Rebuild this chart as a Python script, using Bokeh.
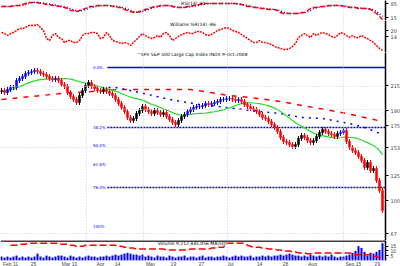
import numpy as np
import pandas as pd
from bokeh.plotting import figure
from bokeh.layouts import column
from bokeh.models import FixedTicker, Span, Range1d, ColumnDataSource
from bokeh.embed import file_html
from bokeh.resources import INLINE
from bokeh.core.properties import value

# ---------------- data ----------------
closes = [210, 208, 211, 213, 213, 220, 222, 224, 227, 228,
          229, 230, 229, 227, 226, 224, 222, 221, 222, 220,
          216, 214, 208, 204, 201, 198, 205, 210, 215, 218,
          214, 212, 210, 209, 211, 209, 207, 205, 201, 197,
          193, 189, 183, 180, 182, 187, 190, 194, 191, 189,
          187, 190, 188, 186, 188, 184, 181, 178, 176, 180,
          184, 186, 189, 191, 193, 194, 194, 195, 197, 196,
          197, 198, 199, 201, 201, 202, 202, 201, 200, 201,
          199, 196, 194, 192, 191, 189, 186, 183, 182, 179,
          176, 173, 169, 163, 159, 158, 156, 154, 156, 162,
          165, 163, 160, 158, 160, 164, 168, 171, 169, 167,
          166, 164, 167, 168, 170, 159, 153, 150, 148, 144,
          140, 133, 138, 130, 132, 120, 110, 90]
first_open = 209

osc1 = [70, 70, 70, 70, 75, 75, 75, 80, 85, 90,
        90, 90, 90, 85, 85, 80, 80, 75, 75, 70,
        70, 65, 60, 50, 50, 45, 50, 55, 60, 70,
        70, 70, 75, 75, 75, 75, 75, 70, 70, 65,
        65, 55, 50, 45, 40, 40, 45, 50, 55, 60,
        65, 70, 70, 75, 75, 75, 75, 70, 65, 65,
        65, 65, 70, 70, 75, 75, 80, 85, 85, 85,
        85, 85, 85, 85, 85, 85, 85, 85, 85, 80,
        80, 75, 70, 70, 65, 65, 60, 60, 60, 55,
        55, 55, 50, 40, 35, 35, 35, 35, 35, 35,
        40, 40, 50, 60, 65, 65, 70, 70, 70, 75,
        75, 75, 75, 75, 70, 70, 65, 65, 65, 60,
        60, 60, 60, 55, 45, 35, 20, 5]

osc2 = [18, 17, 15, 17, 18, 20, 22, 22, 23, 25,
        25, 25, 26, 23, 20, 12, 10, 15, 17, 13,
        12, 8, 10, 10, 8, 8, 10, 15, 17, 17,
        18, 18, 17, 12, 13, 18, 15, 10, 9, 8,
        7, 8, 7, 5, 8, 11, 14, 17, 15, 13,
        12, 13, 15, 13, 17, 18, 15, 10, 12, 14,
        16, 17, 18, 17, 17, 19, 19, 18, 16, 15,
        16, 18, 20, 21, 22, 23, 22, 20, 19, 18,
        16, 14, 12, 10, 8, 8, 10, 8, 8, 7,
        6, 4, 3, 2, 1, 1, 2, 4, 7, 13,
        15, 17, 15, 13, 17, 15, 17, 18, 17, 16,
        14, 13, 15, 18, 17, 15, 13, 15, 13, 13,
        15, 13, 12, 10, 8, 5, 2, 0]

volume = [4, 3, 4, 3, 4, 5, 3, 4, 3, 4,
          3, 4, 7, 4, 3, 5, 4, 3, 4, 5,
          5, 4, 3, 5, 4, 3, 4, 3, 4, 5,
          4, 4, 3, 4, 4, 5, 4, 5, 6, 5,
          6, 7, 8, 7, 6, 6, 5, 6, 4, 5,
          4, 3, 5, 4, 4, 3, 5, 4, 3, 4,
          4, 5, 3, 4, 4, 3, 4, 5, 3, 4,
          4, 3, 4, 4, 5, 4, 3, 4, 5, 4,
          5, 4, 4, 5, 3, 4, 4, 5, 4, 5,
          4, 5, 5, 6, 5, 6, 7, 6, 5, 5,
          4, 5, 4, 6, 5, 4, 5, 4, 5, 4,
          6, 4, 3, 4, 4, 5, 6, 8, 10, 15,
          13, 9, 5, 8, 7, 9, 11, 18]

vol_avg = [None, None, None, 16, 16, 16, 17, 17, 17, 18,
           18, 18, 18, 18, 18, 18, 18, 18, 18, 18,
           17, 17, 17, 16, 16, 15, 15, 15, 16, 16,
           16, 16, 16, 16, 16, 16, 16, 16, 16, 15,
           15, 14, 14, 13, 13, 12, 12, 12, 12, 12,
           12, 12, 12, 12, 12, 11, 11, 11, 11, 11,
           11, 11, 11, 12, 12, 12, 12, 12, 12, 12,
           13, 13, 14, 14, 14, 18, 18, 18, 18, 18,
           18, 18, 16, 15, 14, 14, 14, 13, 13, 12,
           12, 12, 11, 11, 10, 10, 10, 9, 9, 8,
           8, 8, 7, 7, 8, 8, 8, 8, 8, 8,
           8, 8, 8, 8, 8, 8, 8, 7, 6, 6,
           6, 6, 6, 6, 5, 4, 3, 3]

long_ma_idx = [0, 20, 40, 63, 76, 86, 95, 100, 106, 115, 127]
long_ma_val = [201, 207, 211, 211, 205, 202, 198, 195, 192, 187, 179]

mid_ma_idx = [31, 38, 46, 56, 66, 75, 86, 93, 100, 107, 116, 121, 127]
mid_ma_val = [213, 213, 208, 201, 196, 193, 189, 187, 183, 182, 177, 173, 166]

fib_levels = [233, 173, 155, 136, 113, 74]
fib_labels = ["0.0%", "38.2%", "50.0%", "61.8%", "76.4%", "100%"]
fib_drawn = [(233, "solid"), (173, "dotted"), (113, "dotted")]

grid_x = [28.3, 47.3, 75.3, 114]
grid_price = [214, 191, 153, 67]
price_ticks = [67, 100, 125, 153, 175, 190, 215]

xtick_pos = [3, 10.7, 22.7, 33, 38.7, 49.7, 57.3, 66.7, 76.3, 86, 94.7, 103.7, 117.3, 125.3]
xtick_lab = ["Feb 11", "25", "Mar 10", "Apr", "14", "May", "19", "27", "Jul", "14", "28", "Aug", "Sep 15", "29"]

title_osc1 = "RSI(14) 30"
title_osc2 = "Williams %R(14) -86"
title_price = "^SPX S&P 500 Large Cap Index INDX  9-Oct-2008"
title_vol = "Volume 9,212,445,056  MA(50)"

# ---------------- derived ----------------
n = len(closes)
idx = np.arange(n)
opens = [first_open] + closes[:-1]
ma20 = pd.Series(closes, dtype=float).rolling(20, min_periods=1).mean().values
highs = [max(o, c) + 2.5 for o, c in zip(opens, closes)]
lows = [min(o, c) - 2.5 for o, c in zip(opens, closes)]
colors = []
for i in range(n):
    if closes[i] < opens[i]:
        colors.append("#ff0000")
    elif i > 0 and closes[i] > ma20[i] and ma20[i] > ma20[i - 1]:
        colors.append("#0000ff")
    else:
        colors.append("#000000")
sig1 = pd.Series(osc1, dtype=float).rolling(3, min_periods=1).mean().values

FONT = value("DejaVu Sans")
GRID = "#c8c8ee"
xr = Range1d(-1 / 3, 128)


def make(h, yr, ticks, labels=None):
    p = figure(frame_width=385, frame_height=h, x_range=xr, y_range=yr,
               x_axis_location=None, y_axis_location="right",
               toolbar_location=None, output_backend="svg",
               min_border_left=0, min_border_top=0, min_border_bottom=0,
               min_border_right=15, outline_line_color=None,
               background_fill_color="white", border_fill_color="white")
    p.xgrid.grid_line_color = None
    p.ygrid.grid_line_color = None
    ax = p.yaxis[0]
    ax.ticker = FixedTicker(ticks=ticks)
    if labels:
        ax.major_label_overrides = labels
    ax.major_label_text_font_size = "5px"
    ax.major_label_text_font = "DejaVu Sans"
    ax.major_label_standoff = 2
    ax.major_tick_out = 3
    ax.major_tick_in = 0
    ax.minor_tick_line_color = None
    ax.axis_line_color = "black"
    ax.axis_line_width = 1.5
    for gx in grid_x:
        p.add_layout(Span(location=gx, dimension="height", line_color=GRID,
                          line_dash="1 2", line_width=1))
    return p


# top oscillator
pa = make(20, Range1d(0, 100), [85, 15])
pa.line(idx, sig1, line_color="#0000ff", line_width=1.5, line_dash="1 2")
pa.line(idx, osc1, line_color="#ff0000", line_width=1.5, line_dash="5 2")
pa.text(x=[63.8], y=[86], text=[title_osc1], text_font=FONT, text_font_size="4.5px",
        text_align="center", text_baseline="middle")

# second oscillator
pb = make(32, Range1d(-2, 30), [20, 14])
pb.line(idx, osc2, line_color="#ff0000", line_width=1.5, line_dash="2 1")
pb.text(x=[63.8], y=[26], text=[title_osc2], text_font=FONT, text_font_size="4.5px",
        text_align="center", text_baseline="middle")

# price panel
pc = make(188, Range1d(60, 248), price_ticks)
for gp in grid_price:
    pc.add_layout(Span(location=gp, dimension="width", line_color=GRID,
                       line_dash="1 2", line_width=1))
for lvl, sty in fib_drawn:
    pc.segment(x0=[35.3], y0=[lvl], x1=[128], y1=[lvl], line_color="#0000ff",
               line_width=1.5, line_dash="solid" if sty == "solid" else "2 1")
pc.text(x=[30.5] * len(fib_levels), y=fib_levels, text=fib_labels, text_font=FONT,
        text_font_size="4px", text_color="#0000ff", text_baseline="middle")
pc.line(long_ma_idx, long_ma_val, line_color="#ff0000", line_width=1.5, line_dash="5 6")
pc.line(mid_ma_idx, mid_ma_val, line_color="#0000ff", line_width=1.5, line_dash="2 5")
pc.line(idx, ma20, line_color="#22dd22", line_width=1.2)
src = ColumnDataSource(dict(x=idx, o=opens, c=closes, h=highs, l=lows, col=colors))
pc.segment(x0="x", y0="l", x1="x", y1="h", color="col", line_width=1, source=src)
pc.vbar(x="x", bottom="o", top="c", width=0.7, fill_color="col", line_color="col",
        line_width=0.5, source=src)
pc.text(x=[63.8], y=[246], text=[title_price], text_font=FONT, text_font_size="4.5px",
        text_align="center", text_baseline="middle")

# volume panel
pd_ = figure(frame_width=385, frame_height=20, x_range=xr, y_range=Range1d(0, 21),
             x_axis_location="below", y_axis_location="right",
             toolbar_location=None, output_backend="svg",
             min_border_left=0, min_border_top=0, min_border_bottom=0,
             min_border_right=15, outline_line_color=None)
pd_.xgrid.grid_line_color = None
pd_.ygrid.grid_line_color = None
for gx in grid_x:
    pd_.add_layout(Span(location=gx, dimension="height", line_color=GRID,
                        line_dash="1 2", line_width=1))
pd_.add_layout(Span(location=20.5, dimension="width", line_color="black", line_width=1.5))
pd_.vbar(x=idx, top=volume, bottom=0, width=0.55, fill_color="#0000ff", line_color="#0000ff",
         line_width=0.3)
pd_.line(idx, [np.nan if v is None else v for v in vol_avg], line_color="#ff0000",
         line_width=1.5, line_dash="7 3")
pd_.text(x=[63.8], y=[17.5], text=[title_vol], text_font=FONT, text_font_size="4.5px",
         text_align="center", text_baseline="middle")
ya = pd_.yaxis[0]
ya.ticker = FixedTicker(ticks=[5, 10, 15])
ya.major_label_text_font_size = "5px"
ya.major_label_standoff = 2
ya.major_tick_out = 3
ya.major_tick_in = 0
ya.minor_tick_line_color = None
ya.axis_line_color = "black"
ya.axis_line_width = 1.5
xa = pd_.xaxis[0]
xa.ticker = FixedTicker(ticks=xtick_pos)
xa.major_label_overrides = {p: l for p, l in zip(xtick_pos, xtick_lab)}
xa.major_label_text_font_size = "5px"
xa.major_label_standoff = 0
xa.major_tick_out = 0
xa.major_tick_in = 0
xa.minor_tick_line_color = None
xa.axis_line_color = None

layout = column(pa, pb, pc, pd_, spacing=0)
open("out.html", "w").write(file_html(layout, INLINE))
